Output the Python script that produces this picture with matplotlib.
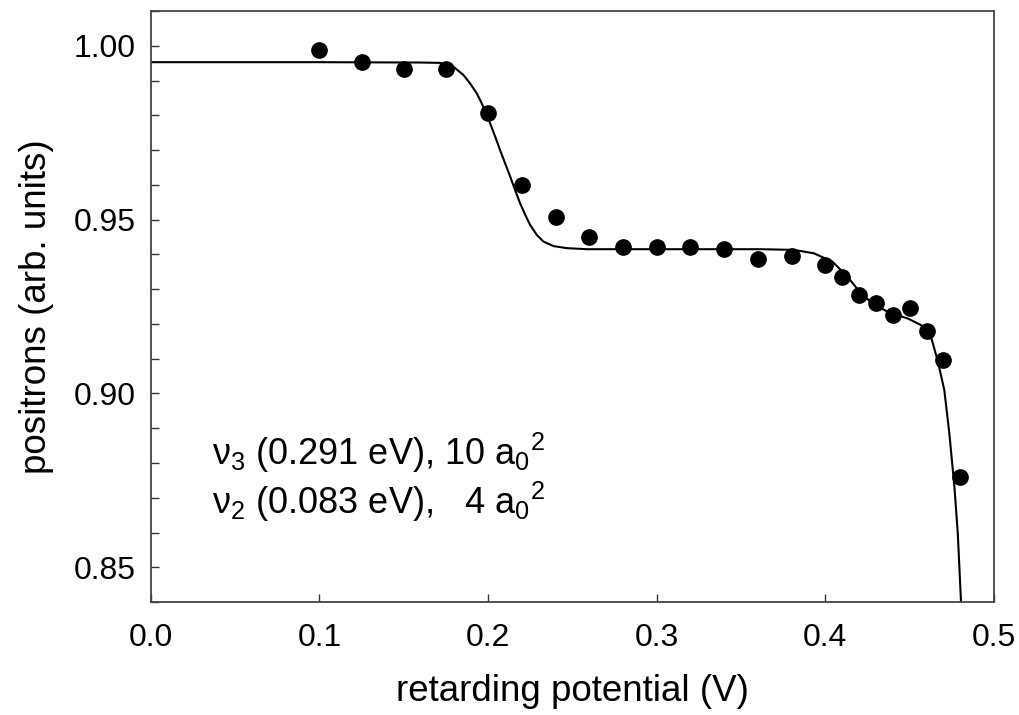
import matplotlib
matplotlib.use("Agg")
import matplotlib.pyplot as plt
from matplotlib.ticker import MultipleLocator, FormatStrFormatter

plt.rcParams['font.family'] = ['Liberation Sans', 'DejaVu Sans']
plt.rcParams['mathtext.fontset'] = 'custom'
plt.rcParams['mathtext.rm'] = 'Liberation Sans'
plt.rcParams['mathtext.it'] = 'Liberation Sans:italic'
plt.rcParams['mathtext.bf'] = 'Liberation Sans:bold'

# measured points
x_data = [0.100, 0.125, 0.150, 0.175, 0.200, 0.220, 0.240, 0.260, 0.280, 0.300,
          0.320, 0.340, 0.360, 0.380, 0.400, 0.410, 0.420, 0.430, 0.440, 0.450,
          0.460, 0.470, 0.480]
y_data = [0.9988, 0.9953, 0.9934, 0.9934, 0.9806, 0.9599, 0.9509, 0.9450, 0.9421, 0.9421,
          0.9422, 0.9416, 0.9388, 0.9396, 0.9370, 0.9334, 0.9283, 0.9260, 0.9225, 0.9245,
          0.9181, 0.9097, 0.8759]

# fitted curve
x_fit = [0.000, 0.100, 0.160, 0.1715, 0.1794, 0.1854, 0.1893, 0.1933, 0.1963, 0.1992,
         0.2012, 0.2042, 0.2071, 0.2101, 0.2131, 0.2160, 0.2190, 0.2220, 0.2249, 0.2289,
         0.2328, 0.2387, 0.2467, 0.2586, 0.3617, 0.3814, 0.3933, 0.4042, 0.4131, 0.4210,
         0.4289, 0.4388, 0.4487, 0.4566, 0.4626, 0.4665, 0.4705, 0.4735, 0.4765, 0.4785,
         0.4804, 0.4810]
y_fit = [0.9953, 0.9953, 0.9952, 0.9951, 0.9940, 0.9916, 0.9892, 0.9863, 0.9834, 0.9801,
         0.9777, 0.9739, 0.9700, 0.9662, 0.9624, 0.9585, 0.9547, 0.9514, 0.9485, 0.9456,
         0.9437, 0.9424, 0.9418, 0.9415, 0.9415, 0.9413, 0.9403, 0.9379, 0.9336, 0.9288,
         0.9255, 0.9231, 0.9216, 0.9197, 0.9163, 0.9096, 0.9010, 0.8885, 0.8732, 0.8598,
         0.8402, 0.8350]

annot_lines = ['ν$_3$ (0.291 eV), 10 a$_0$$^2$', 'ν$_2$ (0.083 eV),   4 a$_0$$^2$']

fig = plt.figure(figsize=(10.19, 7.15), dpi=100)
ax = fig.add_axes([0.148, 0.158, 0.8275, 0.8265])

ax.plot(x_fit, y_fit, color='black', lw=1.5, zorder=2)
ax.plot(x_data, y_data, 'o', color='black', ms=11, zorder=3)

ax.set_xlim(0.0, 0.5)
ax.set_ylim(0.84, 1.01)
ax.xaxis.set_major_locator(MultipleLocator(0.1))
ax.xaxis.set_major_formatter(FormatStrFormatter('%.1f'))
ax.yaxis.set_major_locator(MultipleLocator(0.05))
ax.yaxis.set_minor_locator(MultipleLocator(0.01))
ax.yaxis.set_major_formatter(FormatStrFormatter('%.2f'))

ax.tick_params(axis='both', which='both', direction='in', length=6, width=1,
               color='#333333', top=False, right=False, labelsize=23)
ax.tick_params(axis='x', pad=15)
ax.tick_params(axis='y', pad=11)
for s in ax.spines.values():
    s.set_color('#444444')
    s.set_linewidth(1.3)

ax.set_xlabel('retarding potential (V)', fontsize=26.5, labelpad=15)
ax.set_ylabel('positrons (arb. units)', fontsize=26.5, labelpad=14)

ax.text(0.0362, 0.8795, annot_lines[0], fontsize=26, ha='left', va='baseline')
ax.text(0.0362, 0.8654, annot_lines[1], fontsize=26, ha='left', va='baseline')

fig.savefig('out.png', dpi=100)
